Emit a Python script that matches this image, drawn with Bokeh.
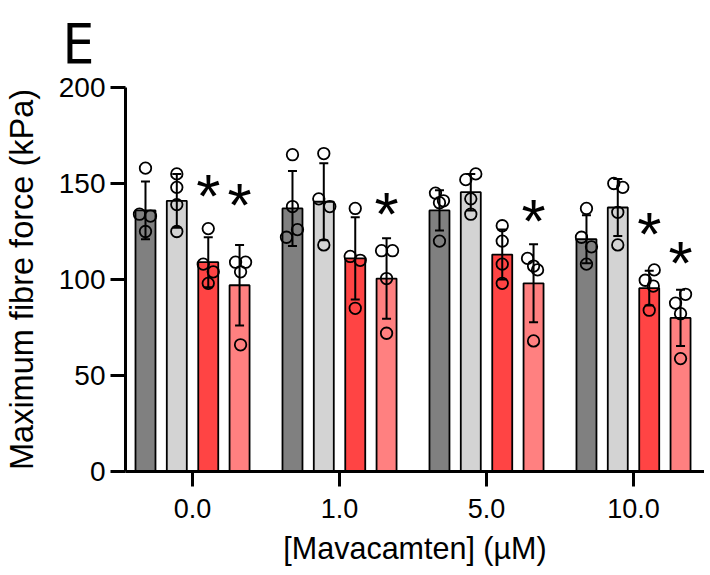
from bokeh.plotting import figure
from bokeh.models import ColumnDataSource, Whisker, TeeHead, FixedTicker, Range1d
from bokeh.core.properties import value
from bokeh.embed import file_html
from bokeh.resources import INLINE

# ---------------- data ----------------
DOSES = ["0.0", "1.0", "5.0", "10.0"]
SERIES = ["dark", "light", "red", "pink"]

MEAN_DARK = [136, 137, 136, 121]
MEAN_LIGHT = [141, 140.5, 145.5, 137.5]
MEAN_RED = [109, 111, 113, 95.5]
MEAN_PINK = [97, 100.5, 98, 80]

SD_DARK = [15, 19.5, 10.5, 12.5]
SD_LIGHT = [14, 20, 9.5, 14.8]
SD_RED = [13, 21.4, 13, 9]
SD_PINK = [21, 21, 20.3, 14.6]

PTS_DARK = [[158, 134, 133, 125], [165, 138, 126, 122], [145, 141, 140, 120], [137, 122, 117, 108]]
PTS_LIGHT = [[155, 148, 139, 125], [165.6, 142, 138, 118], [155, 152, 142, 134], [150, 148, 135, 118]]
PTS_RED = [[126.5, 108, 104, 98], [137, 112, 110, 85], [128, 120, 108, 98], [105, 99.6, 96.6, 84]]
PTS_PINK = [[109, 109, 104, 66], [115, 115, 100.5, 72], [111, 107, 105, 68], [92.3, 87.7, 82.2, 58.8]]

# significance stars: (dose index, series index, level in kPa)
STAR_DOSE = [0, 0, 1, 2, 3, 3]
STAR_SERIES = [2, 3, 3, 3, 2, 3]
STAR_LEVEL = [148, 143, 138.7, 135, 128, 113]

# ---------------- style ----------------
COLORS = ["#808080", "#d3d3d3", "#ff4444", "#ff8080"]
OFFSETS = [-0.32, -0.107, 0.107, 0.32]
BAR_W = 0.136
PX_PER_UNIT = 147.0
JITTER_PX = [
    [[0, -6, 5, 0], [0, 0, 5, -6], [-4, 4, 0, 0], [0, -5, 5, 0]],
    [[0, 0, 0, 0], [0, -5, 6, 0], [5, -5, 0, 0], [-4, 5, 0, 0]],
    [[0, -5, 5, 0], [0, -5, 5, 0], [0, 0, 0, 0], [5, -4, 4, 0]],
    [[-4, 6, 1, 1], [-5, 6, 0, 0], [-6, 0, 4, 0], [5, -5, 0, 0]],
]
FONT = "Liberation Sans"
STAR_PX = 62

MEANS = [MEAN_DARK, MEAN_LIGHT, MEAN_RED, MEAN_PINK]
SDS = [SD_DARK, SD_LIGHT, SD_RED, SD_PINK]
PTS = [PTS_DARK, PTS_LIGHT, PTS_RED, PTS_PINK]

X0, X1 = -0.456, 3.483
p = figure(width=704, height=572,
           x_range=Range1d(X0, X1), y_range=Range1d(0, 200),
           output_backend="svg", toolbar_location=None,
           min_border_left=125, min_border_right=0,
           min_border_top=87, min_border_bottom=101,
           title="E")

# panel letter
p.title.text_font = "DejaVu Sans Condensed, DejaVu Sans"
p.title.text_font_size = "56px"
p.title.text_font_style = "normal"
p.title.text_color = "black"
p.title.align = "left"
p.title.vertical_align = "top"
p.title.offset = -63
p.title.standoff = 19

p.xgrid.visible = False
p.ygrid.visible = False
p.outline_line_color = None

for s in range(4):
    xs = [g + OFFSETS[s] for g in range(len(DOSES))]
    src = ColumnDataSource(dict(x=xs, top=MEANS[s],
                                upper=[m + d for m, d in zip(MEANS[s], SDS[s])],
                                lower=[m - d for m, d in zip(MEANS[s], SDS[s])]))
    p.vbar(x="x", top="top", bottom=0, width=BAR_W, source=src,
           fill_color=COLORS[s], line_color="black", line_width=1.8)
    w = Whisker(base="x", upper="upper", lower="lower", source=src,
                dimension="height", line_color="black", line_width=2,
                upper_head=TeeHead(size=9, line_width=2, line_color="black"),
                lower_head=TeeHead(size=9, line_width=2, line_color="black"),
                level="annotation")
    p.add_layout(w)
    px, py = [], []
    for g in range(len(DOSES)):
        for k, v in enumerate(PTS[s][g]):
            px.append(g + OFFSETS[s] + JITTER_PX[s][g][k] / PX_PER_UNIT)
            py.append(v)
    p.scatter(px, py, marker="circle", size=11.5, fill_alpha=0,
              line_color="black", line_width=1.8)

star_src = ColumnDataSource(dict(
    x=[d + OFFSETS[s] for d, s in zip(STAR_DOSE, STAR_SERIES)],
    y=STAR_LEVEL, t=["*"] * len(STAR_LEVEL)))
p.text(x="x", y="y", text="t", source=star_src, text_font=value(FONT),
       text_font_size=f"{STAR_PX}px", text_align="center", text_baseline="alphabetic",
       y_offset=8, text_color="black")

# axes
p.xaxis.ticker = FixedTicker(ticks=list(range(len(DOSES))))
p.xaxis.major_label_overrides = {i: d for i, d in enumerate(DOSES)}
p.yaxis.ticker = FixedTicker(ticks=[0, 50, 100, 150, 200])
p.xaxis.axis_label = "[Mavacamten] (µM)"
p.yaxis.axis_label = "Maximum fibre force (kPa)"
for ax in (p.xaxis, p.yaxis):
    ax.axis_line_width = 3
    ax.axis_line_color = "black"
    ax.major_tick_line_width = 3
    ax.major_tick_line_color = "black"
    ax.major_tick_out = 15
    ax.major_tick_in = 0
    ax.minor_tick_line_color = None
    ax.major_label_text_font = FONT
    ax.major_label_text_color = "black"
    ax.axis_label_text_font = FONT
    ax.axis_label_text_font_style = "normal"
    ax.axis_label_text_color = "black"
p.xaxis.major_label_text_font_size = "27px"
p.yaxis.major_label_text_font_size = "28px"
p.xaxis.axis_label_text_font_size = "30.5px"
p.yaxis.axis_label_text_font_size = "32.5px"
p.xaxis.major_label_standoff = 12
p.yaxis.major_label_standoff = 5
p.xaxis.axis_label_standoff = 10
p.yaxis.axis_label_standoff = 16

open("out.html", "w").write(file_html(p, INLINE))
